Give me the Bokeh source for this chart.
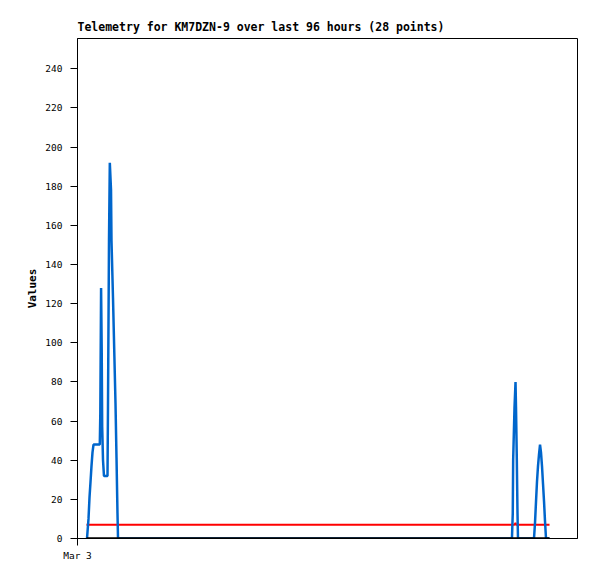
from bokeh.plotting import figure
from bokeh.models import Range1d, FixedTicker
from bokeh.embed import file_html
from bokeh.resources import INLINE

# hours since Mar 3 00:00
times = [1.87, 1.97, 2.28, 2.49, 2.70, 2.90, 3.11, 3.32, 4.62, 4.73, 4.89, 5.02, 5.12,
         5.29, 5.49, 6.22, 6.32, 6.53, 6.70, 6.95, 7.05, 7.36, 7.61, 7.88, 8.09, 8.29,
         8.40, 30.0, 60.0, 90.08, 90.25, 90.33, 90.61, 90.82, 90.92, 91.09, 91.23,
         91.33, 94.65, 94.86, 95.07, 95.27, 95.48, 95.69, 95.90, 96.10, 96.31, 96.52,
         96.73, 96.93, 97.14, 97.87]
blue_vals = [0, 0, 10, 21, 29, 37, 44, 48, 48, 64, 128, 96, 57,
             40, 32, 32, 67, 152, 192, 178, 152, 123, 97, 69, 41, 13,
             0, 0, 0, 0, 13, 40, 67, 80, 67, 40, 13,
             0, 0, 8, 19, 29, 37, 43, 48, 44, 37, 28,
             19, 9, 0, 0]
red_vals = [7] * 33 + [8] + [7] * 18
black_vals = [0] * 52

y_ticks = list(range(0, 241, 20))
x_tick_labels = {0: "Mar 3"}

p = figure(width=593, height=571, output_backend="svg", toolbar_location=None,
           x_range=Range1d(0, 103.67), y_range=Range1d(0, 255.5),
           min_border_left=77, min_border_right=16, min_border_top=38,
           min_border_bottom=33)

p.title.text = "Telemetry for KM7DZN-9 over last 96 hours (28 points)"
p.title.text_font = "DejaVu Sans Mono"
p.title.text_font_style = "bold"
p.title.text_font_size = "11.5px"
p.title.align = "left"
p.title.text_color = "black"

p.grid.visible = False
p.outline_line_color = "black"
p.outline_line_alpha = 1
p.background_fill_color = "white"
p.border_fill_color = "white"

for ax in (p.xaxis[0], p.yaxis[0]):
    ax.axis_line_color = "black"
    ax.major_tick_line_color = "black"
    ax.major_tick_out = 7
    ax.major_tick_in = 0
    ax.minor_tick_line_color = None
    ax.major_label_text_font = "DejaVu Sans Mono"
    ax.major_label_text_font_size = "9.5px"
    ax.major_label_text_color = "black"

p.yaxis.ticker = FixedTicker(ticks=y_ticks)
p.yaxis.major_label_standoff = 8
p.yaxis.axis_label = "Values"
p.yaxis.axis_label_text_font = "DejaVu Sans Mono"
p.yaxis.axis_label_text_font_style = "bold"
p.yaxis.axis_label_text_font_size = "11px"
p.yaxis.axis_label_text_color = "black"
p.yaxis.axis_label_standoff = 3

p.xaxis.ticker = FixedTicker(ticks=list(x_tick_labels.keys()))
p.xaxis.major_label_overrides = x_tick_labels
p.xaxis.major_label_standoff = 4

p.line(times, red_vals, line_color="#ff0000", line_width=2)
p.line(times, blue_vals, line_color="#0066cc", line_width=2.5)
p.line(times, black_vals, line_color="black", line_width=2.5)

open("out.html", "w").write(file_html(p, INLINE))
